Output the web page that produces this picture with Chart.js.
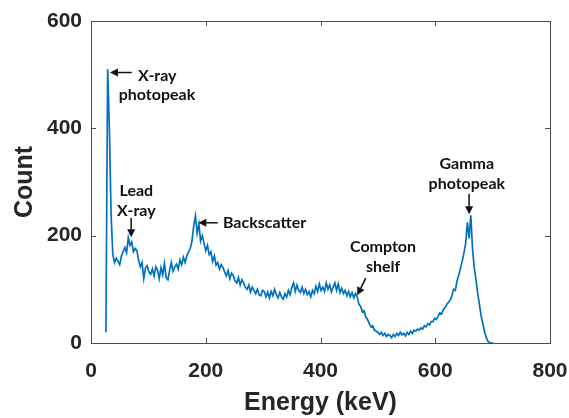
<!DOCTYPE html>
<html>
<head>
<meta charset="utf-8">
<script src="https://cdn.jsdelivr.net/npm/chart.js@4/dist/chart.umd.min.js"></script>
<style>
  html, body { margin: 0; padding: 0; background: #fff; }
  #wrap { width: 569px; height: 418px; }
</style>
</head>
<body>
<div id="wrap"><canvas id="spectrum" width="569" height="418"></canvas></div>
<script>
// energy bins (keV) and counts
const energy = [
  26, 29, 32, 35, 38, 41, 44, 47, 50, 53,
  56, 59, 62, 65, 68, 71, 74, 77, 80, 83,
  86, 89, 92, 95, 98, 101, 104, 107, 110, 113,
  116, 119, 122, 125, 128, 131, 134, 137, 140, 143,
  146, 149, 152, 155, 158, 161, 164, 167, 170, 173,
  176, 179, 182, 185, 188, 191, 194, 197, 200, 203,
  206, 209, 212, 215, 218, 221, 224, 227, 230, 233,
  236, 239, 242, 245, 248, 251, 254, 257, 260, 263,
  266, 269, 272, 275, 278, 281, 284, 287, 290, 293,
  296, 299, 302, 305, 308, 311, 314, 317, 320, 323,
  326, 329, 332, 335, 338, 341, 344, 347, 350, 353,
  356, 359, 362, 365, 368, 371, 374, 377, 380, 383,
  386, 389, 392, 395, 398, 401, 404, 407, 410, 413,
  416, 419, 422, 425, 428, 431, 434, 437, 440, 443,
  446, 449, 452, 455, 458, 461, 464, 467, 470, 473,
  476, 479, 482, 485, 488, 491, 494, 497, 500, 503,
  506, 509, 512, 515, 518, 521, 524, 527, 530, 533,
  536, 539, 542, 545, 548, 551, 554, 557, 560, 563,
  566, 569, 572, 575, 578, 581, 584, 587, 590, 593,
  596, 599, 602, 605, 608, 611, 614, 617, 620, 623,
  626, 629, 632, 635, 638, 641, 644, 647, 650, 653,
  656, 659, 662, 665, 668, 671, 674, 677, 680, 683,
  686, 689, 692, 695, 698, 701
];
const counts = [
  20, 510, 400, 240, 165, 150, 158, 152, 146, 162,
  170, 178, 168, 196, 182, 188, 170, 176, 172, 154,
  142, 150, 120, 140, 144, 132, 128, 138, 125, 142,
  136, 120, 140, 127, 148, 122, 118, 135, 150, 134,
  142, 147, 138, 155, 146, 160, 150, 162, 170, 176,
  190, 218, 237, 205, 222, 190, 200, 186, 172, 182,
  165, 170, 152, 162, 145, 150, 138, 146, 141, 132,
  125, 135, 120, 130, 126, 116, 112, 122, 108, 118,
  112, 104, 100, 108, 95, 104, 98, 92, 100, 90,
  88, 98, 96, 86, 95, 84, 96, 88, 100, 90,
  84, 94, 86, 82, 92, 86, 98, 90, 104, 112,
  96, 108, 98, 94, 104, 92, 100, 90, 96, 86,
  98, 92, 106, 96, 110, 98, 104, 96, 112, 100,
  108, 95, 104, 112, 98, 110, 94, 102, 92, 98,
  88, 96, 86, 94, 84, 92, 86, 72, 68, 58,
  60, 48, 44, 36, 30, 32, 24, 22, 20, 16,
  20, 14, 18, 12, 16, 14, 10, 16, 12, 18,
  14, 20, 15, 18, 13, 20, 16, 22, 18, 24,
  22, 26, 24, 28, 26, 32, 30, 36, 34, 40,
  40, 46, 44, 50, 56, 54, 62, 66, 72, 76,
  80, 88, 100, 98, 116, 126, 140, 152, 168, 185,
  225, 195, 238, 175, 140, 118, 92, 72, 50, 36,
  20, 10, 3, 1, 0, 0
];
const xTicks = [0, 200, 400, 600, 800];
const yTicks = [0, 200, 400, 600];

// callouts: text lines anchored in data units, arrows from -> to (tip)
const notes = [
  { lines: ['X-ray'], at: [82, 497], align: 'left' },
  { lines: ['photopeak'], at: [115, 462], align: 'center' },
  { lines: ['Lead', 'X-ray'], at: [79, 283], align: 'center' },
  { lines: ['Backscatter'], at: [230, 224], align: 'left' },
  { lines: ['Compton', 'shelf'], at: [509, 179], align: 'center' },
  { lines: ['Gamma', 'photopeak'], at: [655, 334], align: 'center' }
];
const arrows = [
  { from: [71, 504], to: [33, 504] },
  { from: [70, 233], to: [70, 197] },
  { from: [221, 224], to: [187, 224] },
  { from: [479, 121], to: [464, 89] },
  { from: [659, 278], to: [659, 240] }
];

const ink = '#262626';

const framePlugin = {
  id: 'frame',
  afterDraw(chart) {
    const { ctx, chartArea: a, scales: { x, y } } = chart;
    ctx.save();
    ctx.strokeStyle = '#4d4d4d';
    ctx.lineWidth = 1;
    ctx.strokeRect(a.left + 0.5, a.top + 0.5, a.width, a.height);
    ctx.beginPath();
    xTicks.forEach(v => {
      const px = Math.round(x.getPixelForValue(v)) + 0.5;
      ctx.moveTo(px, a.bottom); ctx.lineTo(px, a.bottom - 5);
      ctx.moveTo(px, a.top); ctx.lineTo(px, a.top + 5);
    });
    yTicks.forEach(v => {
      const py = Math.round(y.getPixelForValue(v)) + 0.5;
      ctx.moveTo(a.left, py); ctx.lineTo(a.left + 5, py);
      ctx.moveTo(a.right, py); ctx.lineTo(a.right - 5, py);
    });
    ctx.stroke();
    ctx.restore();
  }
};

const notesPlugin = {
  id: 'notes',
  afterDatasetsDraw(chart) {
    const { ctx, scales: { x, y } } = chart;
    ctx.save();
    ctx.fillStyle = '#111';
    ctx.strokeStyle = '#111';
    ctx.font = 'bold 16px Lato, "Open Sans", sans-serif';
    ctx.textBaseline = 'middle';
    notes.forEach(n => {
      ctx.textAlign = n.align;
      const px = x.getPixelForValue(n.at[0]);
      const py = y.getPixelForValue(n.at[1]);
      n.lines.forEach((t, i) => ctx.fillText(t, px, py + i * 20));
    });
    arrows.forEach(ar => {
      const x1 = x.getPixelForValue(ar.from[0]), y1 = y.getPixelForValue(ar.from[1]);
      const x2 = x.getPixelForValue(ar.to[0]), y2 = y.getPixelForValue(ar.to[1]);
      const ang = Math.atan2(y2 - y1, x2 - x1);
      const hl = 8, hw = 4;
      const bx = x2 - hl * Math.cos(ang), by = y2 - hl * Math.sin(ang);
      ctx.lineWidth = 1.5;
      ctx.beginPath();
      ctx.moveTo(x1, y1); ctx.lineTo(bx, by);
      ctx.stroke();
      ctx.beginPath();
      ctx.moveTo(x2, y2);
      ctx.lineTo(bx + hw * Math.sin(ang), by - hw * Math.cos(ang));
      ctx.lineTo(bx - hw * Math.sin(ang), by + hw * Math.cos(ang));
      ctx.closePath();
      ctx.fill();
    });
    ctx.restore();
  }
};

new Chart(document.getElementById('spectrum'), {
  type: 'line',
  data: {
    datasets: [{
      label: 'Spectrum',
      data: energy.map((e, i) => ({ x: e, y: counts[i] })),
      borderColor: '#0072BD',
      borderWidth: 1.7,
      pointRadius: 0,
      tension: 0,
      fill: false
    }]
  },
  options: {
    responsive: false,
    animation: false,
    devicePixelRatio: 1,
    layout: { padding: { top: 21, right: 19, left: 0, bottom: 0 } },
    plugins: { legend: { display: false }, tooltip: { enabled: false } },
    scales: {
      x: {
        type: 'linear', min: 0, max: 800,
        afterFit: s => { s.height = 75; s.paddingLeft = 0; s.paddingRight = 0; },
        afterBuildTicks: s => { s.ticks = xTicks.map(v => ({ value: v })); },
        grid: { display: false },
        border: { display: false },
        ticks: { color: ink, font: { family: '"Liberation Sans", Arial', size: 21, weight: 'bold' }, padding: 8, maxRotation: 0 },
        title: { display: true, text: 'Energy (keV)', color: ink, font: { family: '"Liberation Sans", Arial', size: 25, weight: 'bold', lineHeight: 1.2 }, padding: { top: 0, bottom: 0 } }
      },
      y: {
        type: 'linear', min: 0, max: 600,
        afterFit: s => { s.width = 91; s.paddingTop = 0; s.paddingBottom = 0; },
        afterBuildTicks: s => { s.ticks = yTicks.map(v => ({ value: v })); },
        grid: { display: false },
        border: { display: false },
        ticks: { color: ink, font: { family: '"Liberation Sans", Arial', size: 21, weight: 'bold' }, padding: 1 },
        title: { display: true, text: 'Count', color: ink, font: { family: '"Liberation Sans", Arial', size: 25, weight: 'bold', lineHeight: 1.2 }, padding: { top: 10, bottom: 0 } }
      }
    }
  },
  plugins: [framePlugin, notesPlugin]
});
</script>
</body>
</html>
